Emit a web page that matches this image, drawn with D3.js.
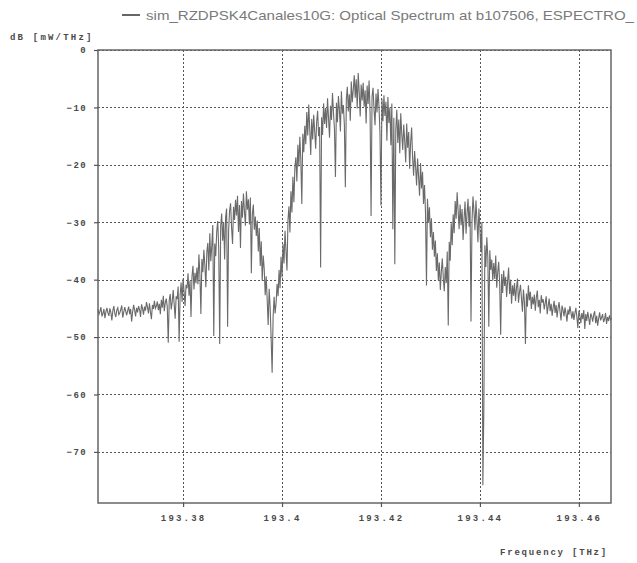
<!DOCTYPE html>
<html>
<head>
<meta charset="utf-8">
<script src="https://cdn.jsdelivr.net/npm/d3@7"></script>
<style>
  body { margin: 0; background: #fff; }
  svg { display: block; }
  .tick text { font-family: "Liberation Mono", "DejaVu Sans Mono", monospace; font-size: 9px; font-weight: bold; fill: #4a4a4a; letter-spacing: 2.2px; }
</style>
</head>
<body>
<div id="container"></div>
<script>
"use strict";

const width = 637;
const height = 563;

// chart texts
const titleText = "sim_RZDPSK4Canales10G: Optical Spectrum at b107506, ESPECTRO_";
const yAxisLabel = "dB [mW/THz]";
const xAxisLabel = "Frequency [THz]";

// axis ticks
const xTicks = [193.38, 193.4, 193.42, 193.44, 193.46];
const yTicks = [0, -10, -20, -30, -40, -50, -60, -70];
const xDomain = [193.3628, 193.4665];
const yDomain = [-78.9, 0];

// spectrum samples, one every 0.0002 THz
const freqStart = 193.3628;
const freqStep = 0.0002;
const powerDb = [
  -45.2,-46.0,-45.5,-44.8,-46.4,-45.9,-45.1,-46.7,-45.6,-44.9,
  -45.8,-46.3,-45.0,-45.7,-47.1,-45.4,-44.6,-45.9,-46.5,-45.3,
  -44.9,-46.1,-45.8,-45.2,-44.5,-46.6,-45.7,-44.8,-45.5,-46.2,
  -45.4,-44.7,-46.0,-45.1,-47.3,-45.6,-44.4,-45.3,-46.4,-44.9,
  -45.7,-44.6,-45.2,-46.5,-44.3,-45.0,-46.1,-44.7,-45.4,-43.9,
  -44.8,-45.9,-44.1,-45.6,-46.9,-44.4,-45.1,-43.7,-45.0,-44.6,
  -43.8,-45.3,-44.2,-46.0,-43.5,-44.9,-42.8,-45.5,-44.0,-43.3,
  -44.7,-51.0,-43.6,-42.5,-45.2,-43.9,-41.8,-44.3,-46.8,-42.9,
  -43.4,-41.2,-50.8,-42.7,-40.5,-43.9,-39.8,-42.1,-44.6,-40.9,
  -41.5,-38.9,-42.8,-40.2,-46.5,-39.4,-37.6,-41.7,-38.8,-40.6,
  -37.9,-40.8,-35.6,-39.2,-46.0,-36.4,-38.7,-34.8,-37.5,-41.3,
  -35.2,-33.6,-38.4,-31.9,-36.8,-34.1,-30.5,-49.8,-33.7,-35.9,
  -31.6,-29.8,-34.4,-51.2,-30.7,-28.5,-33.2,-30.0,-36.5,-29.1,
  -27.6,-48.2,-31.5,-28.0,-26.7,-30.9,-33.8,-27.3,-29.6,-26.1,
  -28.8,-25.4,-31.7,-27.0,-34.5,-26.3,-29.2,-25.0,-28.1,-30.6,
  -24.6,-27.8,-26.0,-30.4,-25.7,-38.9,-28.6,-26.9,-31.3,-29.0,
  -32.4,-29.7,-35.1,-31.0,-37.6,-33.3,-40.2,-35.8,-38.1,-42.7,
  -39.4,-43.5,-47.9,-41.6,-44.8,-50.3,-56.2,-46.4,-43.0,-45.9,
  -44.1,-40.7,-42.9,-38.3,-41.5,-36.0,-39.6,-33.8,-37.2,-31.5,
  -34.9,-38.4,-29.7,-27.2,-31.8,-24.6,-28.3,-22.1,-26.5,-20.4,
  -18.7,-22.9,-16.5,-20.3,-15.1,-19.2,-26.8,-14.6,-17.8,-13.2,
  -16.4,-10.8,-14.9,-9.5,-13.7,-18.3,-12.0,-15.6,-11.3,-14.1,
  -17.2,-12.5,-10.6,-15.0,-13.4,-37.9,-11.7,-14.8,-9.3,-12.9,
  -10.1,-13.6,-8.4,-11.9,-15.3,-9.7,-12.2,-7.5,-10.9,-13.8,
  -22.1,-9.2,-12.6,-8.0,-10.5,-14.2,-7.2,-11.1,-9.6,-13.0,
  -23.9,-8.6,-6.4,-10.7,-7.7,-12.3,-5.5,-9.1,-6.9,-4.4,
  -8.3,-5.1,-10.2,-4.0,-7.3,-11.6,-6.0,-8.8,-5.7,-9.9,
  -7.0,-12.8,-6.2,-9.4,-5.3,-11.0,-28.9,-8.1,-6.6,-10.4,
  -13.1,-7.6,-10.9,-6.8,-9.8,-14.5,-27.1,-8.5,-12.4,-7.9,
  -11.5,-9.0,-15.8,-8.2,-12.7,-10.0,-16.6,-9.3,-31.2,-11.8,
  -37.3,-13.9,-10.4,-16.2,-12.1,-18.0,-11.0,-14.6,-17.4,-13.0,
  -15.9,-19.6,-12.8,-17.0,-14.3,-20.7,-16.1,-13.5,-18.8,-21.9,
  -17.6,-20.3,-23.6,-18.9,-22.0,-25.4,-19.7,-24.1,-21.2,-26.8,
  -23.5,-28.2,-41.0,-25.9,-30.1,-27.4,-32.6,-29.3,-34.8,-31.7,
  -36.0,-33.2,-38.5,-35.4,-40.1,-37.0,-41.8,-38.6,-36.3,-39.7,
  -42.0,-37.8,-40.6,-35.1,-48.0,-33.4,-36.7,-30.2,-34.0,-28.6,
  -31.9,-26.3,-29.4,-24.8,-28.0,-31.2,-26.9,-30.5,-27.7,-33.1,
  -29.3,-26.4,-32.0,-28.5,-25.9,-30.8,-27.2,-47.3,-29.9,-25.5,
  -28.1,-31.4,-26.2,-29.7,-33.5,-27.6,-31.0,-35.2,-30.0,-75.8,
  -62.3,-34.0,-37.8,-32.6,-36.1,-48.2,-34.9,-38.3,-36.5,-40.2,
  -37.1,-39.9,-35.8,-41.4,-38.7,-36.9,-40.8,-49.6,-39.0,-42.3,
  -38.4,-41.1,-39.5,-43.0,-40.3,-37.9,-42.5,-40.0,-44.2,-41.0,
  -42.8,-40.6,-43.7,-41.4,-39.8,-44.0,-42.2,-40.9,-43.3,-45.6,
  -41.7,-43.9,-51.2,-42.4,-44.7,-41.0,-43.6,-42.1,-45.1,-43.0,
  -44.3,-42.6,-45.4,-43.1,-41.9,-44.8,-43.5,-45.9,-42.7,-44.0,
  -43.4,-45.2,-44.1,-42.9,-46.0,-44.6,-43.3,-45.5,-44.2,-46.3,
  -44.9,-43.7,-45.8,-44.4,-46.6,-45.0,-43.9,-45.6,-47.1,-44.5,
  -45.3,-46.4,-44.8,-45.9,-47.3,-45.2,-46.1,-44.6,-45.7,-46.8,
  -45.5,-47.0,-45.9,-44.9,-46.5,-48.4,-45.4,-46.2,-47.6,-45.8,
  -46.9,-45.3,-48.6,-46.0,-47.2,-45.6,-46.7,-47.9,-45.9,-46.4,
  -47.3,-46.1,-45.5,-47.6,-46.3,-48.0,-46.8,-45.7,-47.1,-46.6,
  -46.0,-47.4,-46.9,-45.8,-47.7,-46.5,-47.2,-46.2,-47.0,-46.7
];

const plot = { left: 98, right: 611, top: 50, bottom: 503 };

const svg = d3.select("#container").append("svg")
  .attr("width", width)
  .attr("height", height);

const x = d3.scaleLinear().domain(xDomain).range([plot.left, plot.right]);
const y = d3.scaleLinear().domain(yDomain).range([plot.bottom, plot.top]);

// grid lines (dotted)
const grid = svg.append("g").attr("class", "grid");
grid.selectAll(".vgrid")
  .data(xTicks)
  .enter()
  .append("line")
  .attr("x1", d => Math.round(x(d)) + 0.5)
  .attr("x2", d => Math.round(x(d)) + 0.5)
  .attr("y1", plot.top)
  .attr("y2", plot.bottom)
  .style("stroke", "#555")
  .style("stroke-width", 1)
  .style("stroke-dasharray", "2,2");
grid.selectAll(".hgrid")
  .data(yTicks)
  .enter()
  .append("line")
  .attr("x1", plot.left)
  .attr("x2", plot.right)
  .attr("y1", d => Math.round(y(d)) + 0.5)
  .attr("y2", d => Math.round(y(d)) + 0.5)
  .style("stroke", "#555")
  .style("stroke-width", 1)
  .style("stroke-dasharray", "2,2");

// the spectrum trace
const data = powerDb.map((v, i) => ({ f: freqStart + i * freqStep, v: v }));
svg.append("path")
  .datum(data)
  .attr("fill", "none")
  .attr("stroke", "#6a6a6a")
  .attr("stroke-width", 1.1)
  .attr("d", d3.line().x(d => x(d.f)).y(d => y(d.v)));

// frame
svg.append("rect")
  .attr("x", plot.left)
  .attr("y", plot.top)
  .attr("width", plot.right - plot.left)
  .attr("height", plot.bottom - plot.top)
  .attr("fill", "none")
  .attr("stroke", "#666")
  .attr("stroke-width", 1.5);

// axes (wide minus sign like the original labels)
const yAxis = svg.append("g")
  .attr("transform", "translate(" + plot.left + ",0)")
  .call(d3.axisLeft(y).tickValues(yTicks).tickSize(4).tickPadding(7)
    .tickFormat(d => d < 0 ? "\u2212" + Math.abs(d) : String(d)));
const xAxis = svg.append("g")
  .attr("transform", "translate(0," + plot.bottom + ")")
  .call(d3.axisBottom(x).tickValues(xTicks).tickSize(4).tickPadding(8).tickFormat(d => String(d)));
[yAxis, xAxis].forEach(a => {
  a.select(".domain").remove();
  a.selectAll(".tick line").style("stroke", "#555").style("stroke-width", 1.2);
});
yAxis.selectAll(".tick text").style("letter-spacing", "1.4px");

// axis titles
svg.append("text")
  .attr("x", 10)
  .attr("y", 40)
  .style("font-family", "Liberation Mono, monospace")
  .style("font-size", "9px")
  .style("font-weight", "bold")
  .style("letter-spacing", "2.2px")
  .style("fill", "#4a4a4a")
  .text(yAxisLabel);
svg.append("text")
  .attr("x", 608)
  .attr("y", 555)
  .attr("text-anchor", "end")
  .style("font-family", "Liberation Mono, monospace")
  .style("font-size", "9px")
  .style("font-weight", "bold")
  .style("letter-spacing", "1.8px")
  .style("fill", "#4a4a4a")
  .text(xAxisLabel);

// legend / title
svg.append("line")
  .attr("x1", 122).attr("x2", 140)
  .attr("y1", 15).attr("y2", 15)
  .style("stroke", "#666")
  .style("stroke-width", 2);
svg.append("text")
  .attr("x", 146)
  .attr("y", 20)
  .attr("textLength", 488)
  .attr("lengthAdjust", "spacingAndGlyphs")
  .style("font-family", "Liberation Sans, Arial, sans-serif")
  .style("font-size", "13px")
  .style("fill", "#7a7a7a")
  .text(titleText);
</script>
</body>
</html>
